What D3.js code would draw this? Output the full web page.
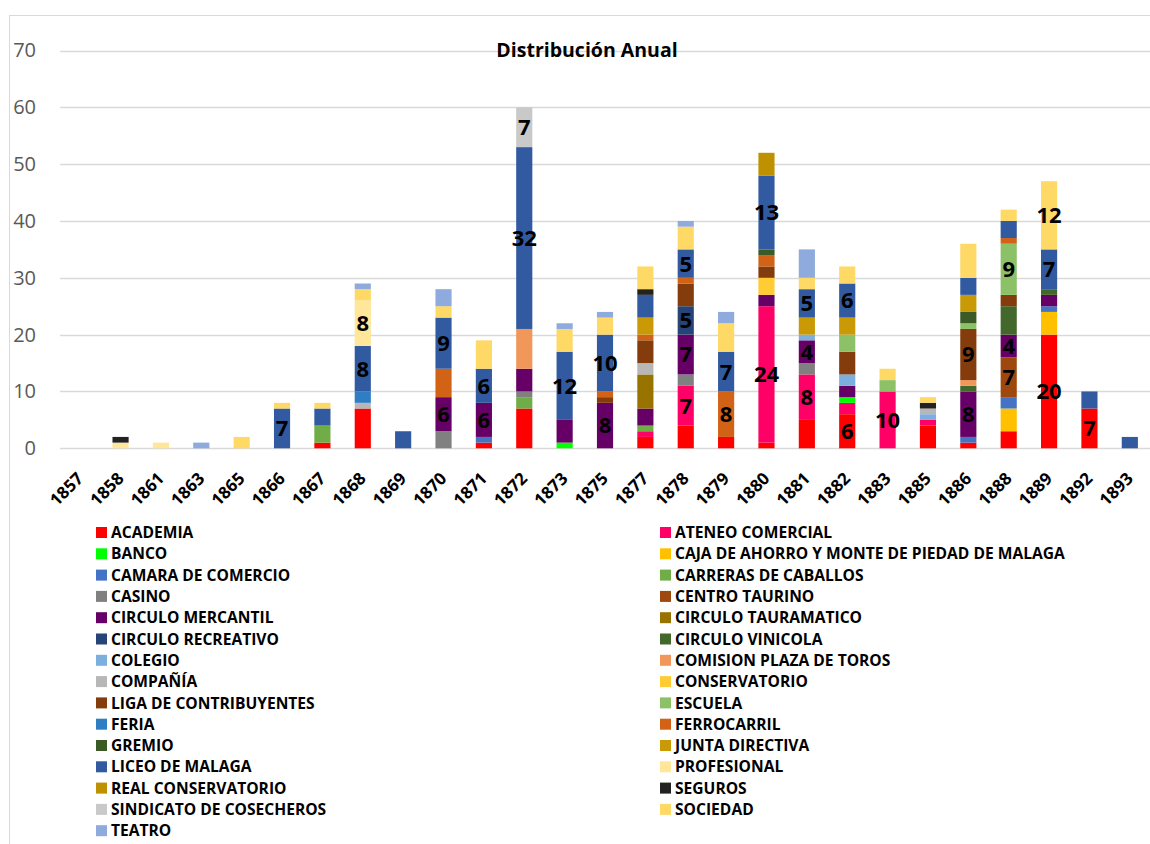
<!DOCTYPE html>
<html>
<head>
<meta charset="utf-8">
<script src="https://cdn.jsdelivr.net/npm/d3@7"></script>
<style>
  html, body { margin: 0; padding: 0; background: #fff; }
  svg { display: block; }
</style>
</head>
<body>
<svg id="chart" width="1150" height="844"></svg>
<script>
// ---------- DATA ----------
const years = ["1857","1858","1861","1863","1865","1866","1867","1868","1869",
               "1870","1871","1872","1873","1875","1877","1878","1879","1880",
               "1881","1882","1883","1885","1886","1888","1889","1892","1893"];

const yTicks = [0, 10, 20, 30, 40, 50, 60, 70];

const seriesNames = [
  "ACADEMIA", "ATENEO COMERCIAL", "BANCO", "CAJA DE AHORRO Y MONTE DE PIEDAD DE MALAGA",
  "CAMARA DE COMERCIO", "CARRERAS DE CABALLOS", "CASINO", "CENTRO TAURINO",
  "CIRCULO MERCANTIL", "CIRCULO TAURAMATICO", "CIRCULO RECREATIVO", "CIRCULO VINICOLA",
  "COLEGIO", "COMISION PLAZA DE TOROS", "COMPAÑÍA", "CONSERVATORIO",
  "LIGA DE CONTRIBUYENTES", "ESCUELA", "FERIA", "FERROCARRIL",
  "GREMIO", "JUNTA DIRECTIVA", "LICEO DE MALAGA", "PROFESIONAL",
  "REAL CONSERVATORIO", "SEGUROS", "SINDICATO DE COSECHEROS", "SOCIEDAD", "TEATRO"
];

const seriesColors = [
  "#FF0000", "#FF0066", "#00FF00", "#FFC000",
  "#4472C4", "#70AD47", "#808080", "#9E480E",
  "#660066", "#997300", "#264478", "#43682B",
  "#7CAFDD", "#F1975A", "#B7B7B7", "#FFCD33",
  "#843C0C", "#8CC168", "#2F7EC4", "#D26215",
  "#3B5A26", "#C99A06", "#325AA0", "#FFE699",
  "#BF9000", "#222222", "#C9C9C9", "#FFD966", "#8FAADC"
];

// values per series, aligned with `years`
const academia          = [0,0,0,0,0,0,1,7,0, 0,1,7,0,0,2,4,2,1, 5,6,0,4,1,3,20,7,0];
const ateneo            = [0,0,0,0,0,0,0,0,0, 0,0,0,0,0,1,7,0,24, 8,2,10,1,0,0,0,0,0];
const banco             = [0,0,0,0,0,0,0,0,0, 0,0,0,1,0,0,0,0,0, 0,1,0,0,0,0,0,0,0];
const cajaAhorro        = [0,0,0,0,0,0,0,0,0, 0,0,0,0,0,0,0,0,0, 0,0,0,0,0,4,4,0,0];
const camaraComercio    = [0,0,0,0,0,0,0,0,0, 0,1,0,0,0,0,0,0,0, 0,0,0,0,1,2,1,0,0];
const carrerasCaballos  = [0,0,0,0,0,0,3,0,0, 0,0,2,0,0,1,0,0,0, 0,0,0,0,0,0,0,0,0];
const casino            = [0,0,0,0,0,0,0,0,0, 3,0,1,0,0,0,2,0,0, 2,0,0,0,0,0,0,0,0];
const centroTaurino     = [0,0,0,0,0,0,0,0,0, 0,0,0,0,0,0,0,0,0, 0,0,0,0,0,7,0,0,0];
const circuloMercantil  = [0,0,0,0,0,0,0,0,0, 6,6,4,4,8,3,7,0,2, 4,2,0,0,8,4,2,0,0];
const circuloTauramatico= [0,0,0,0,0,0,0,0,0, 0,0,0,0,0,6,0,0,0, 0,0,0,0,0,0,0,0,0];
const circuloRecreativo = [0,0,0,0,0,0,0,0,0, 0,0,0,0,0,0,5,0,0, 0,0,0,0,0,0,0,0,0];
const circuloVinicola   = [0,0,0,0,0,0,0,0,0, 0,0,0,0,0,0,0,0,0, 0,0,0,0,1,5,1,0,0];
const colegio           = [0,0,0,0,0,0,0,0,0, 0,0,0,0,0,0,0,0,0, 1,2,0,1,0,0,0,0,0];
const comisionToros     = [0,0,0,0,0,0,0,0,0, 0,0,7,0,0,0,0,0,0, 0,0,0,0,1,0,0,0,0];
const compania          = [0,0,0,0,0,0,0,1,0, 0,0,0,0,0,2,0,0,0, 0,0,0,1,0,0,0,0,0];
const conservatorio     = [0,0,0,0,0,0,0,0,0, 0,0,0,0,0,0,0,0,3, 0,0,0,0,0,0,0,0,0];
const ligaContribuyentes= [0,0,0,0,0,0,0,0,0, 0,0,0,0,1,4,4,0,2, 0,4,0,0,9,2,0,0,0];
const escuela           = [0,0,0,0,0,0,0,0,0, 0,0,0,0,0,0,0,0,0, 0,3,2,0,1,9,0,0,0];
const feria             = [0,0,0,0,0,0,0,2,0, 0,0,0,0,0,0,0,0,0, 0,0,0,0,0,0,0,0,0];
const ferrocarril       = [0,0,0,0,0,0,0,0,0, 5,0,0,0,1,1,1,8,2, 0,0,0,0,0,1,0,0,0];
const gremio            = [0,0,0,0,0,0,0,0,0, 0,0,0,0,0,0,0,0,1, 0,0,0,0,2,0,0,0,0];
const juntaDirectiva    = [0,0,0,0,0,0,0,0,0, 0,0,0,0,0,3,0,0,0, 3,3,0,0,3,0,0,0,0];
const liceo             = [0,0,0,0,0,7,3,8,3, 9,6,32,12,10,4,5,7,13, 5,6,0,0,3,3,7,3,2];
const profesional       = [0,1,1,0,0,0,0,8,0, 0,0,0,0,0,0,0,0,0, 0,0,0,0,0,0,0,0,0];
const realConservatorio = [0,0,0,0,0,0,0,0,0, 0,0,0,0,0,0,0,0,4, 0,0,0,0,0,0,0,0,0];
const seguros           = [0,1,0,0,0,0,0,0,0, 0,0,0,0,0,1,0,0,0, 0,0,0,1,0,0,0,0,0];
const sindicato         = [0,0,0,0,0,0,0,0,0, 0,0,7,0,0,0,0,0,0, 0,0,0,0,0,0,0,0,0];
const sociedad          = [0,0,0,0,2,1,1,2,0, 2,5,0,4,3,4,4,5,0, 2,3,2,1,6,2,12,0,0];
const teatro            = [0,0,0,1,0,0,0,1,0, 3,0,0,1,1,0,1,2,0, 5,0,0,0,0,0,0,0,0];

// segments that carry a value label: [year, series]
const labelYears  = ["1866","1868","1868","1870","1870","1871","1871","1872","1872","1873",
                     "1875","1875","1878","1878","1878","1878","1879","1879","1880","1880",
                     "1881","1881","1881","1882","1882","1883","1886","1886","1888","1888",
                     "1888","1889","1889","1889","1892"];
const labelSeries = ["LICEO DE MALAGA","LICEO DE MALAGA","PROFESIONAL","CIRCULO MERCANTIL","LICEO DE MALAGA",
                     "CIRCULO MERCANTIL","LICEO DE MALAGA","LICEO DE MALAGA","SINDICATO DE COSECHEROS","LICEO DE MALAGA",
                     "CIRCULO MERCANTIL","LICEO DE MALAGA","ATENEO COMERCIAL","CIRCULO MERCANTIL","CIRCULO RECREATIVO",
                     "LICEO DE MALAGA","FERROCARRIL","LICEO DE MALAGA","ATENEO COMERCIAL","LICEO DE MALAGA",
                     "ATENEO COMERCIAL","CIRCULO MERCANTIL","LICEO DE MALAGA","ACADEMIA","LICEO DE MALAGA",
                     "ATENEO COMERCIAL","CIRCULO MERCANTIL","LIGA DE CONTRIBUYENTES","CENTRO TAURINO","CIRCULO MERCANTIL",
                     "ESCUELA","ACADEMIA","LICEO DE MALAGA","SOCIEDAD","ACADEMIA"];

const seriesValues = [
  academia, ateneo, banco, cajaAhorro, camaraComercio, carrerasCaballos, casino, centroTaurino,
  circuloMercantil, circuloTauramatico, circuloRecreativo, circuloVinicola, colegio, comisionToros,
  compania, conservatorio, ligaContribuyentes, escuela, feria, ferrocarril, gremio, juntaDirectiva,
  liceo, profesional, realConservatorio, seguros, sindicato, sociedad, teatro
];

// ---------- BUILD TABLE ----------
const table = years.map((y, i) => {
  const row = { year: y };
  seriesNames.forEach((s, k) => { row[s] = seriesValues[k][i]; });
  return row;
});
const stacked = d3.stack().keys(seriesNames)(table);

// ---------- DRAW ----------
const svg = d3.select("#chart");
const W = 1150, H = 844;
const plotLeft = 60, plotRight = 1150;
const y0 = 448.3, y70 = 50.5;

svg.append("rect").attr("x", 0).attr("y", 0).attr("width", W).attr("height", H).attr("fill", "#fff");
svg.append("rect").attr("x", 9.5).attr("y", 15.5).attr("width", W).attr("height", H)
  .attr("fill", "none").attr("stroke", "#D9D9D9").attr("stroke-width", 1);

const x = d3.scaleBand().domain(years).range([plotLeft, plotRight]).paddingInner(0.6).paddingOuter(0.3);
const y = d3.scaleLinear().domain([0, 70]).range([y0, y70]);

// gridlines
svg.append("g").selectAll("line").data(yTicks).join("line")
  .attr("x1", plotLeft).attr("x2", plotRight)
  .attr("y1", d => Math.round(y(d)) + 0.5).attr("y2", d => Math.round(y(d)) + 0.5)
  .attr("stroke", "#D9D9D9").attr("stroke-width", 1.3);

// y axis labels
const yAxis = d3.axisLeft(y).tickValues(yTicks).tickSize(0).tickPadding(0);
const yg = svg.append("g").attr("transform", "translate(36,0)").call(yAxis);
yg.select(".domain").remove();
yg.selectAll("text").attr("font-family", "'Open Sans', sans-serif").attr("font-size", 20)
  .attr("fill", "#595959");

// title
svg.append("text").attr("x", 587).attr("y", 57).attr("text-anchor", "middle")
  .attr("font-family", "'Open Sans', sans-serif").attr("font-weight", "bold").attr("font-size", 19.5)
  .attr("fill", "#000").text("Distribución Anual");

// bars
const layers = svg.append("g").selectAll("g").data(stacked).join("g")
  .attr("fill", (d, i) => seriesColors[i]);
layers.selectAll("rect").data(d => d).join("rect")
  .attr("x", d => x(d.data.year))
  .attr("width", x.bandwidth())
  .attr("y", d => y(d[1]))
  .attr("height", d => Math.max(0, y(d[0]) - y(d[1])));

// data labels
const labels = labelYears.map((yr, i) => {
  const k = seriesNames.indexOf(labelSeries[i]);
  const j = years.indexOf(yr);
  const seg = stacked[k][j];
  return { year: yr, v: seg[1] - seg[0], mid: (seg[0] + seg[1]) / 2 };
});
svg.append("g").selectAll("text").data(labels).join("text")
  .attr("x", d => x(d.year) + x.bandwidth() / 2)
  .attr("y", d => y(d.mid))
  .attr("dy", "0.36em")
  .attr("text-anchor", "middle")
  .attr("font-family", "'Open Sans', sans-serif").attr("font-weight", "bold").attr("font-size", 22)
  .attr("fill", "#000")
  .text(d => d.v);

// x axis labels
const xAxis = d3.axisBottom(x).tickSize(0).tickPadding(0);
const xg = svg.append("g").attr("transform", `translate(0,${y0})`).call(xAxis);
xg.select(".domain").remove();
xg.selectAll("text")
  .attr("font-family", "'Open Sans', sans-serif").attr("font-weight", "bold").attr("font-size", 17)
  .attr("fill", "#000")
  .attr("text-anchor", "end")
  .attr("dy", "0.35em")
  .attr("y", 0)
  .attr("transform", "translate(0,27) rotate(-45)");

// legend
const legend = svg.append("g").selectAll("g").data(seriesNames).join("g")
  .attr("transform", (d, i) => `translate(${i % 2 === 0 ? 96 : 660},${532.5 + Math.floor(i / 2) * 21.3})`);
legend.append("rect").attr("x", 0).attr("y", -5.5).attr("width", 11).attr("height", 11)
  .attr("fill", (d, i) => seriesColors[i]);
legend.append("text").attr("x", 15).attr("y", 0).attr("dy", "0.36em")
  .attr("font-family", "'Open Sans', sans-serif").attr("font-weight", "bold").attr("font-size", 15.6)
  .attr("fill", "#000").text(d => d);
</script>
</body>
</html>
